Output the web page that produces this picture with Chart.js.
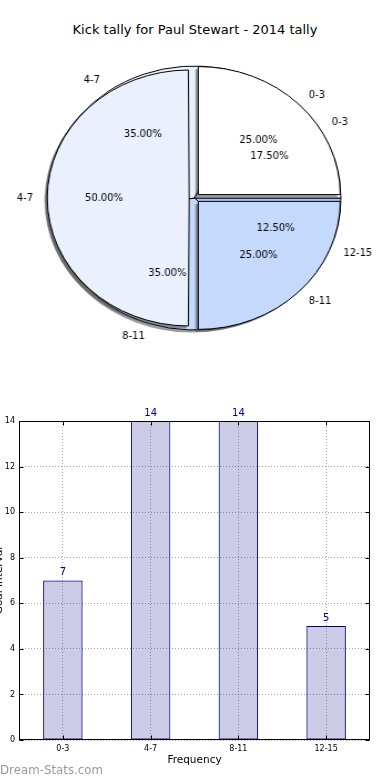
<!DOCTYPE html>
<html>
<head>
<meta charset="utf-8">
<script src="https://cdn.jsdelivr.net/npm/chart.js@4/dist/chart.umd.min.js"></script>
<style>
html, body { margin: 0; padding: 0; background: #fff; }
#page { position: relative; width: 390px; height: 780px; overflow: hidden; font-family: "DejaVu Sans", sans-serif; }
#title { position: absolute; left: 0; top: 22px; width: 390px; text-align: center; font-size: 13px; line-height: 16px; color: #000; }
.pie { position: absolute; left: 6px; top: 48px; }
#barChart { position: absolute; left: 0; top: 400px; }
#mark { position: absolute; left: 0; top: 763px; font-size: 11.8px; line-height: 14px; color: #999; }
</style>
</head>
<body>
<div id="page">
  <div id="title">Kick tally for Paul Stewart - 2014 tally</div>
  <canvas id="pieTotal" class="pie" width="340" height="300" style="width:377px;height:300px"></canvas>
  <canvas id="pieSplit" class="pie" width="340" height="300" style="width:377px;height:300px"></canvas>
  <canvas id="barChart" width="390" height="380" style="width:390px;height:380px"></canvas>
  <div id="mark">Dream-Stats.com</div>
</div>
<script>
// data
const intervals = ['0-3', '4-7', '8-11', '12-15'];
const kickCounts = [7, 14, 14, 5];
const splitLabels = ['0-3', '4-7', '8-11'];
const splitShares = [25, 50, 25];
const yTicks = [0, 2, 4, 6, 8, 10, 12, 14];

const sliceColors = { '0-3': '#ffffff', '4-7': '#eaf1fd', '8-11': '#c5d9fd', '12-15': '#a5c3fa' };

// pie canvases are stretched horizontally by css (matplotlib's oval pie)
const PIE_SX = 377 / 340;

let totalPie = null;

// percent + category labels, matplotlib style (pctdistance 0.6, labeldistance 1.1)
function drawPieLabels(ctx, chart) {
    const opts = chart.options.plugins.pieDecor;
    const values = chart.data.datasets[0].data;
    const total = values.reduce((a, b) => a + b, 0);
    ctx.save();
    ctx.font = '10px "DejaVu Sans"';
    ctx.fillStyle = '#000';
    ctx.textBaseline = 'middle';
    chart.getDatasetMeta(0).data.forEach((arc, i) => {
        const mid = (arc.startAngle + arc.endAngle) / 2;
        const put = (text, dist, align) => {
            const d = opts.explode + dist * opts.radius;
            ctx.save();
            ctx.translate(arc.x + Math.cos(mid) * d, arc.y + Math.sin(mid) * d);
            ctx.scale(1 / PIE_SX, 1);
            ctx.textAlign = align;
            ctx.fillText(text, 0, 0);
            ctx.restore();
        };
        put((values[i] / total * 100).toFixed(2) + '%', 0.6, 'center');
        put(chart.data.labels[i], 1.1, Math.cos(mid) > 0 ? 'left' : 'right');
    });
    ctx.restore();
}

// shadow + exploded slices
const pieDecor = {
    id: 'pieDecor',
    afterDatasetUpdate(chart, args, opts) {
        // chart.js grows a wide offset slice by offset/4, undo that
        args.meta.data.forEach(arc => {
            const fix = 1 - Math.sin(Math.min(Math.PI, arc.circumference));
            arc.outerRadius -= opts.explode * fix;
        });
    },
    beforeDatasetsDraw(chart, args, opts) {
        const ctx = chart.ctx;
        ctx.save();
        ctx.fillStyle = 'rgba(60, 60, 60, 0.5)';
        chart.getDatasetMeta(0).data.forEach(arc => {
            const mid = (arc.startAngle + arc.endAngle) / 2;
            const cx = arc.x + Math.cos(mid) * opts.explode - opts.shadow;
            const cy = arc.y + Math.sin(mid) * opts.explode + opts.shadow;
            ctx.beginPath();
            ctx.moveTo(cx, cy);
            ctx.arc(cx, cy, opts.radius, arc.startAngle, arc.endAngle);
            ctx.closePath();
            ctx.fill();
        });
        ctx.restore();
    },
    afterDatasetsDraw(chart, args, opts) {
        // the top pie writes the labels of both pies so none are hidden
        if (!opts.onTop) return;
        if (totalPie) drawPieLabels(chart.ctx, totalPie);
        drawPieLabels(chart.ctx, chart);
    }
};

function makePie(canvas, labels, values, radius, explode, onTop) {
    // chart.js goes clockwise from the top, matplotlib counter-clockwise from the right
    const revLabels = labels.slice().reverse();
    const revValues = values.slice().reverse();
    return new Chart(canvas, {
        type: 'pie',
        data: {
            labels: revLabels,
            datasets: [{
                data: revValues,
                backgroundColor: revLabels.map(l => sliceColors[l]),
                borderColor: '#000',
                borderWidth: 1,
                offset: explode * 4
            }]
        },
        options: {
            responsive: false,
            animation: false,
            events: [],
            rotation: 90,
            radius: radius,
            layout: { padding: 0 },
            plugins: {
                legend: { display: false },
                tooltip: { enabled: false },
                pieDecor: { radius: radius, explode: explode, shadow: 2.6, onTop: onTop }
            }
        },
        plugins: [pieDecor]
    });
}

// frame round the axes with inward ticks
const axesFrame = {
    id: 'axesFrame',
    afterDraw(chart) {
        const { ctx, chartArea: a, scales: { x, y } } = chart;
        const L = Math.round(a.left) + 0.5, R = Math.round(a.right) - 0.5;
        const T = Math.round(a.top) + 0.5, B = Math.round(a.bottom) - 0.5;
        ctx.save();
        ctx.strokeStyle = '#000';
        ctx.lineWidth = 1;
        ctx.strokeRect(L, T, R - L, B - T);
        ctx.beginPath();
        y.ticks.forEach(t => {
            const py = Math.round(y.getPixelForValue(t.value)) + 0.5;
            ctx.moveTo(L, py); ctx.lineTo(L + 4, py);
            ctx.moveTo(R, py); ctx.lineTo(R - 4, py);
        });
        x.ticks.forEach((t, i) => {
            const px = Math.round(x.getPixelForTick(i)) + 0.5;
            ctx.moveTo(px, B); ctx.lineTo(px, B - 4);
            ctx.moveTo(px, T); ctx.lineTo(px, T + 4);
        });
        ctx.stroke();
        ctx.restore();
    }
};

const barValues = {
    id: 'barValues',
    afterDatasetsDraw(chart) {
        const ctx = chart.ctx;
        const values = chart.data.datasets[0].data;
        ctx.save();
        ctx.font = '10px "DejaVu Sans"';
        ctx.fillStyle = '#000080';
        ctx.textAlign = 'center';
        ctx.textBaseline = 'bottom';
        chart.getDatasetMeta(0).data.forEach((bar, i) => {
            ctx.fillText(String(values[i]), bar.x, bar.y - 3);
        });
        ctx.restore();
    }
};

function initializeCharts() {
    Chart.defaults.font.family = '"DejaVu Sans", sans-serif';
    Chart.defaults.color = '#000';

    totalPie = makePie(document.getElementById('pieTotal'), intervals, kickCounts, 132, 0, false);
    makePie(document.getElementById('pieSplit'), splitLabels, splitShares, 128, 4.8, true);

    new Chart(document.getElementById('barChart'), {
        type: 'bar',
        data: {
            labels: intervals,
            datasets: [{
                data: kickCounts,
                backgroundColor: 'rgba(0, 0, 128, 0.2)',
                borderColor: '#000080',
                borderWidth: 1,
                borderSkipped: false,
                barPercentage: 0.45,
                categoryPercentage: 1
            }]
        },
        options: {
            responsive: false,
            animation: false,
            events: [],
            layout: { padding: { left: 0, right: 20, top: 21, bottom: 0 } },
            plugins: {
                legend: { display: false },
                tooltip: { enabled: false }
            },
            scales: {
                x: {
                    grid: { offset: false, color: 'rgba(0, 0, 0, 0.35)', drawTicks: false },
                    border: { display: false, dash: [1, 2] },
                    ticks: { font: { size: 8 }, color: '#000', padding: 4 },
                    title: {
                        display: true,
                        text: 'Frequency',
                        font: { size: 10.5 },
                        color: '#000',
                        padding: { top: 0, bottom: 13.7 }
                    },
                    afterFit(scale) { scale.height = 40; }
                },
                y: {
                    min: yTicks[0],
                    max: yTicks[yTicks.length - 1],
                    grid: { color: 'rgba(0, 0, 0, 0.35)', drawTicks: false },
                    border: { display: false, dash: [1, 2] },
                    ticks: { stepSize: yTicks[1] - yTicks[0], font: { size: 8 }, color: '#000', padding: 4 },
                    title: {
                        display: true,
                        text: 'Goal Interval',
                        font: { size: 10.5 },
                        color: '#000',
                        padding: { top: -7, bottom: 0 }
                    },
                    afterFit(scale) { scale.width = 19; }
                }
            }
        },
        plugins: [barValues, axesFrame]
    });
}

if (document.readyState === 'loading') {
    document.addEventListener('DOMContentLoaded', initializeCharts);
} else {
    initializeCharts();
}
</script>
</body>
</html>
